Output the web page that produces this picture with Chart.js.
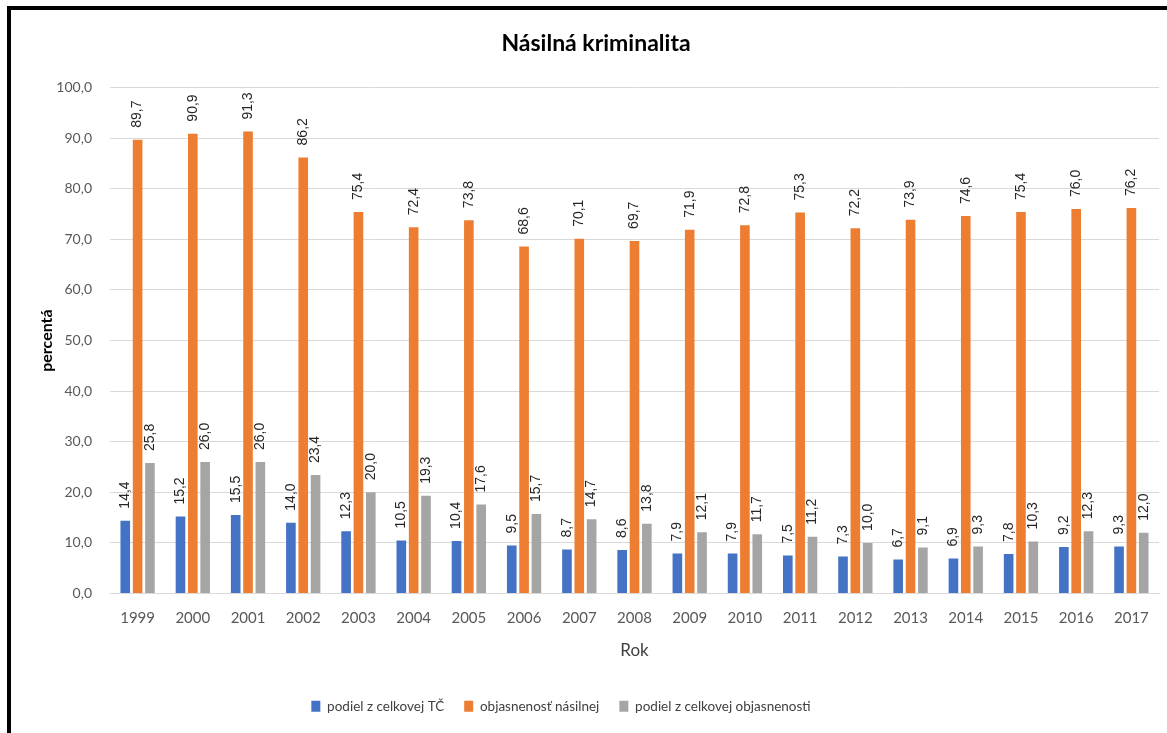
<!DOCTYPE html>
<html>
<head>
<meta charset="utf-8">
<script src="https://cdn.jsdelivr.net/npm/chart.js@4"></script>
<style>
  html, body { margin: 0; padding: 0; background: #fff; }
  #wrap { position: relative; width: 1167px; height: 733px; }
</style>
</head>
<body>
<div id="wrap"><canvas id="graf" width="1167" height="733"></canvas></div>
<script>
const roky = ['1999','2000','2001','2002','2003','2004','2005','2006','2007','2008','2009','2010','2011','2012','2013','2014','2015','2016','2017'];
const podielTC = [14.4,15.2,15.5,14.0,12.3,10.5,10.4,9.5,8.7,8.6,7.9,7.9,7.5,7.3,6.7,6.9,7.8,9.2,9.3];
const objasnenost = [89.7,90.9,91.3,86.2,75.4,72.4,73.8,68.6,70.1,69.7,71.9,72.8,75.3,72.2,73.9,74.6,75.4,76.0,76.2];
const podielObj = [25.8,26.0,26.0,23.4,20.0,19.3,17.6,15.7,14.7,13.8,12.1,11.7,11.2,10.0,9.1,9.3,10.3,12.3,12.0];

const ciarka = v => Number(v).toFixed(1).replace('.', ',');

// hodnoty nad stlpcami, otocene o 90 stupnov
const popisky = {
  id: 'popisky',
  afterDatasetsDraw(chart) {
    const ctx = chart.ctx;
    ctx.save();
    ctx.font = '14px "Liberation Sans", Arial, sans-serif';
    ctx.fillStyle = '#262626';
    ctx.textAlign = 'left';
    ctx.textBaseline = 'middle';
    chart.data.datasets.forEach((ds, i) => {
      chart.getDatasetMeta(i).data.forEach((bar, j) => {
        ctx.save();
        ctx.translate(bar.x, bar.y - 12);
        ctx.rotate(-Math.PI / 2);
        ctx.fillText(ciarka(ds.data[j]), 0, 0);
        ctx.restore();
      });
    });
    ctx.restore();
  }
};

// ramik okolo grafu + legenda trochu dolava ako v exceli
const ramik = {
  id: 'ramik',
  afterLayout(chart) {
    chart.legend.right -= 70;
  },
  afterDraw(chart) {
    const ctx = chart.ctx;
    ctx.save();
    ctx.fillStyle = '#000';
    ctx.fillRect(7, 6, 1160, 4);
    ctx.fillRect(7, 6, 4, 727);
    ctx.restore();
  }
};

new Chart(document.getElementById('graf'), {
  type: 'bar',
  data: {
    labels: roky,
    datasets: [
      { label: 'podiel z celkovej TČ', data: podielTC, backgroundColor: '#4472C4' },
      { label: 'objasnenosť násilnej', data: objasnenost, backgroundColor: '#ED7D31' },
      { label: 'podiel z celkovej objasnenosti', data: podielObj, backgroundColor: '#A5A5A5' }
    ]
  },
  options: {
    responsive: false,
    animation: false,
    categoryPercentage: 0.67,
    barPercentage: 0.78,
    layout: { padding: { left: 33, right: 8, top: 0, bottom: 10 } },
    scales: {
      y: {
        min: 0,
        max: 100,
        ticks: {
          stepSize: 10,
          callback: v => ciarka(v),
          color: '#595959',
          font: { family: 'Lato, sans-serif', size: 14 },
          padding: 18
        },
        grid: { color: '#D9D9D9', drawTicks: false },
        border: { display: false },
        title: {
          display: true,
          text: 'percentá',
          color: '#000',
          font: { family: 'Lato, sans-serif', size: 16, weight: 'bold' }
        },
        afterFit(scale) { scale.width = 77; }
      },
      x: {
        grid: { display: false },
        border: { color: '#D9D9D9' },
        ticks: {
          color: '#595959',
          font: { family: 'Lato, sans-serif', size: 15 },
          padding: 8
        },
        title: {
          display: true,
          text: 'Rok',
          color: '#404040',
          font: { family: 'Lato, sans-serif', size: 17 },
          padding: { top: 0, bottom: 19 }
        },
        afterFit(scale) { scale.height = 86; }
      }
    },
    plugins: {
      title: {
        display: true,
        text: 'Násilná kriminalita',
        color: '#000',
        font: { family: 'Lato, sans-serif', size: 23, weight: 'bold' },
        padding: { top: 30, bottom: 30 }
      },
      legend: {
        position: 'bottom',
        labels: {
          color: '#404040',
          font: { family: 'Lato, sans-serif', size: 13.5 },
          boxWidth: 9,
          boxHeight: 11,
          padding: 20
        }
      },
      tooltip: { enabled: false }
    }
  },
  plugins: [popisky, ramik]
});
</script>
</body>
</html>
